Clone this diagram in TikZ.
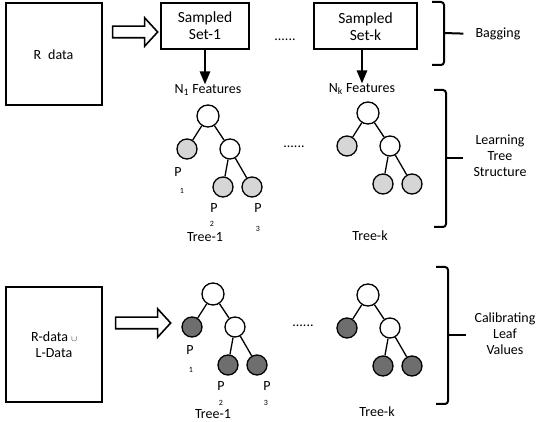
\documentclass[tikz,border=0pt]{standalone}
\usepackage{fontspec}
\setmainfont{Carlito}
\usetikzlibrary{shapes}
\usetikzlibrary{arrows}
\usetikzlibrary{trees}
\definecolor{leaflight}{HTML}{D6D6D6}
\definecolor{leafdark}{HTML}{6E6E6E}
\tikzset{
	plain_text/.style = {
		align=center,
		inner sep=0pt,
		text centered,
		font=\fontsize{14}{16}\selectfont
	},
	small_text/.style = {
		plain_text,
		font=\fontsize{8}{9}\selectfont
	},
	data_box/.style = {
		plain_text,
		rectangle,
		draw=black,
		line width=2pt
	},
	set_box/.style = {
		data_box,
		font=\fontsize{15.5}{17}\selectfont,
		minimum height=46pt
	},
	hollow_arrow/.style = {
		single arrow,
		draw=black,
		fill=white,
		line width=1.6pt,
		inner sep=5pt,
		single arrow head extend=8.5pt,
		single arrow tip angle=95
	},
	node_root/.style = {
		circle,
		draw=black,
		fill=white,
		line width=1.3pt,
		inner sep=0pt,
		minimum size=22pt
	},
	node_inner/.style = {
		node_root,
		minimum size=20pt
	},
	leaf_light/.style = {
		node_inner,
		fill=leaflight
	},
	leaf_dark/.style = {
		node_inner,
		fill=leafdark
	},
	brace_line/.style = {
		line width=2pt,
		rounded corners=3pt
	},
}
\begin{document}
\begin{tikzpicture}[x=1pt, y=-1pt, >=triangle 45,
	level 1/.style={grow via three points={one child at (0pt,-33pt) and two children at (-21pt,-33pt) and (22pt,-33pt)}},
	level 2/.style={grow via three points={one child at (7pt,-38pt) and two children at (-7pt,-38pt) and (22pt,-38pt)}},
	edge from parent/.style={draw, line width=1.3pt}]
\useasboundingbox (0,0) rectangle (542,422);

% bagging
\node [data_box, minimum width=96pt, minimum height=102pt] (rdata) at (53.5,54.5) {R\enspace data};
\node [hollow_arrow, minimum height=45pt] (arr_top) at (132.5,32) {};
\node [set_box, minimum width=88pt] (set1) at (205,26) {Sampled\\Set-1};
\node [set_box, minimum width=103pt] (setk) at (365.5,26.5) {Sampled\\Set-k};
\node [plain_text] (dots_top) at (285,40) {......};
\node [plain_text] (n1) at (208,90) {N\textsubscript{1} Features};
\node [plain_text] (nk) at (362,89) {N\textsubscript{k} Features};
\draw [->, line width=2pt] (set1.south) -- (set1.south |- n1.north);
\draw [->, line width=2pt] (setk.south -| nk.north) -- (nk.north);

% learning trees
\node [node_root] (ta) at (208,116) {}
	child { node [leaf_light] (ta_1) {} }
	child { node [node_inner] (ta_2) {}
		child { node [leaf_light] (ta_21) {} }
		child { node [leaf_light] (ta_22) {} }
	};
\node [node_root] (tb) at (368,113) {}
	child { node [leaf_light] (tb_1) {} }
	child { node [node_inner] (tb_2) {}
		child { node [leaf_light] (tb_21) {} }
		child { node [leaf_light] (tb_22) {} }
	};
\node [plain_text] (dots_mid) at (294,147) {......};
\node [plain_text] (pa_1) at (178,172) {P};
\node [small_text] (pa_1n) at (182,191) {1};
\node [plain_text] (pa_2) at (214,208) {P};
\node [plain_text] (pa_3) at (258,208) {P};
\node [plain_text] (tree_a) at (205,237) {Tree-1};
\node [small_text] (pa_2n) at (212,224) {2};
\node [small_text] (pa_3n) at (258,229) {3};
\node [plain_text] (tree_b) at (370,236) {Tree-k};

% calibrating trees
\node [data_box, minimum width=96pt, minimum height=115pt] (rldata) at (54,344.5) {R-data {\fontsize{8}{9}\selectfont$\cup$}\\L-Data};
\node [hollow_arrow, minimum height=55pt] (arr_bot) at (140.5,323) {};
\node [node_root] (tc) at (213,294) {}
	child { node [leaf_dark] (tc_1) {} }
	child { node [node_inner] (tc_2) {}
		child { node [leaf_dark] (tc_21) {} }
		child { node [leaf_dark] (tc_22) {} }
	};
\node [node_root] (td) at (368,295) {}
	child { node [leaf_dark] (td_1) {} }
	child { node [node_inner] (td_2) {}
		child { node [leaf_dark] (td_21) {} }
		child { node [leaf_dark] (td_22) {} }
	};
\node [plain_text] (dots_bot) at (303,326) {......};
\node [plain_text] (pc_1) at (190,350) {P};
\node [small_text] (pc_1n) at (191,370) {1};
\node [plain_text] (pc_2) at (221,386) {P};
\node [small_text] (pc_2n) at (221,403) {2};
\node [plain_text] (pc_3) at (267,386) {P};
\node [small_text] (pc_3n) at (266,403) {3};
\node [plain_text] (tree_c) at (213,414) {Tree-1};
\node [plain_text] (tree_d) at (377,412) {Tree-k};

% braces
\node [plain_text] (bagging) at (498,34) {Bagging};
\node [plain_text] (learning) at (500,156) {Learning\\Tree\\Structure};
\node [plain_text] (calib) at (505,334) {Calibrating\\Leaf\\Values};
\coordinate (br_a) at (444,33);
\coordinate (br_b) at (446,158);
\coordinate (br_c) at (448,335);
\draw [brace_line] (432,2) -- (444,2) -- (br_a) -- (444,65) -- (432,65);
\draw [brace_line] (434,90) -- (446,90) -- (br_b) -- (446,227) -- (434,227);
\draw [brace_line] (436,267) -- (448,267) -- (br_c) -- (448,404) -- (436,404);
\draw [line width=2pt, shorten >=12pt] (br_a) -- (bagging.west);
\draw [line width=2pt, shorten >=10pt] (br_b) -- (learning.west |- br_b);
\draw [line width=2pt, shorten >=8pt] (br_c) -- (calib.west |- br_c);
\end{tikzpicture}
\end{document}
